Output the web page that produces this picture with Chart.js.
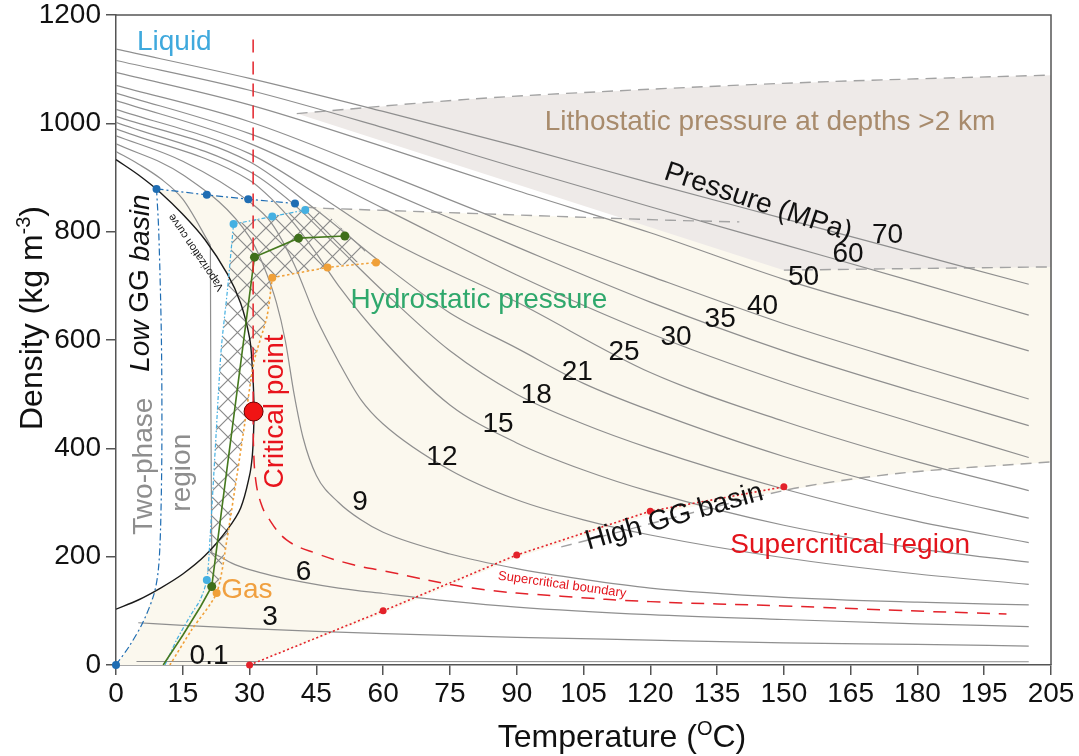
<!DOCTYPE html>
<html>
<head>
<meta charset="utf-8">
<script src="https://cdn.jsdelivr.net/npm/chart.js@4.4.0/dist/chart.umd.min.js"></script>
<style>
  html, body { margin: 0; padding: 0; background: #fff; }
  canvas { display: block; }
</style>
</head>
<body>
<canvas id="chart" width="1079" height="756"></canvas>
<script>
// ---- isobars (temperature °C / density kg m-3) ----
const p70T = [0, 30, 60, 90, 120, 150, 180, 205];
const p70D = [1137, 1083, 1022, 958, 890, 824, 758, 703];
const p60T = [0, 30, 60, 90, 120, 150, 180, 205];
const p60D = [1116, 1061, 992, 918, 846, 776, 706, 646];
const p50T = [0, 30, 60, 90, 120, 150, 180, 205];
const p50D = [1094, 1034, 957, 876, 798, 712, 640, 580];
const p40T = [0, 30, 60, 90, 120, 150, 180, 205];
const p40D = [1070, 1003, 908, 810, 718, 630, 553, 491];
const p35T = [0, 30, 60, 90, 120, 150, 180, 205];
const p35D = [1056, 981, 878, 772, 670, 580, 503, 442];
const p30T = [0, 30, 60, 90, 120, 150, 180, 205];
const p30D = [1042, 963, 843, 720, 612, 522, 445, 383];
const p25T = [0, 30, 45, 60, 90, 120, 150, 180, 205];
const p25D = [1026, 944, 870, 790, 670, 540, 450, 375, 322];
const p21T = [0, 30, 45, 60, 75, 90, 105, 120, 150, 180, 205];
const p21D = [1013, 929, 840, 740, 650, 585, 520, 470, 385, 318, 271];
const p18T = [0, 30, 40, 50, 60, 75, 90, 105, 120, 150, 180, 205];
const p18D = [1002, 911, 850, 770, 690, 580, 500, 445, 400, 325, 265, 226];
const p15T = [0, 30, 35, 40, 45, 50, 60, 75, 90, 105, 120, 150, 180, 205];
const p15D = [990, 895, 860, 815, 760, 700, 600, 480, 410, 360, 320, 258, 215, 190];
const p12T = [0, 15, 30, 35, 40, 45, 50, 55, 60, 75, 90, 105, 120, 150, 180, 205];
const p12D = [977, 930, 855, 815, 740, 640, 560, 490, 445, 360, 305, 268, 240, 198, 168, 149];
const p9T = [0, 15, 30, 33, 36, 38, 40, 42, 45, 50, 55, 60, 75, 90, 105, 120, 150, 180, 205];
const p9D = [962, 905, 790, 740, 670, 600, 500, 420, 350, 300, 268, 245, 205, 178, 158, 142, 125, 116, 111];
const p6LiqT = [0, 5, 10, 15, 21.2];
const p6LiqD = [948, 925, 898, 860, 775];
const p6TwoT = [21.2, 21.3, 21.5];
const p6TwoD = [775, 500, 207];
const p6GasT = [21.5, 23.4, 26, 30, 35, 42, 50, 60, 75, 90, 120, 150, 180, 205];
const p6GasD = [207, 200, 188, 176, 165, 153, 142, 132, 118, 107, 93, 84, 76, 71];
const p3T = [5, 15, 30, 45, 60, 90, 120, 150, 180, 205];
const p3D = [78, 73, 67, 62, 58, 51, 46, 41, 38, 35];
const p01T = [4.6, 205];
const p01D = [6.5, 6];

const pressureLabels = ['70', '60', '50', '40', '35', '30', '25', '21', '18', '15', '12', '9', '6', '3', '0.1'];
const pressureLabelT = [173.3, 164.4, 154.4, 145.2, 135.7, 125.8, 114.1, 103.6, 94.4, 85.8, 73.2, 54.8, 42.1, 34.6, 20.9];
const pressureLabelD = [794, 758, 715, 663, 638, 605, 578, 541, 498, 445, 383, 301, 171, 88, 17];

// ---- saturation dome and critical point ----
const domeT = [0, 5, 10, 15, 20, 25, 28, 30, 30.6, 30.9, 31, 30.9, 30.6, 30, 28, 25, 20, 15, 10, 5, 0];
const domeD = [933, 905, 872, 832, 785, 722, 668, 604, 552, 505, 467, 430, 385, 350, 290, 250, 202, 168, 142, 120, 103];
const criticalT = [30.9];
const criticalD = [468];

// ---- red lines ----
const critLineT = [30.8, 30.8];
const critLineD = [1155, 468];
const scBoundT = [30.8, 30.9, 31.4, 32.5, 34, 38.3, 45, 53.3, 60, 80, 100, 120, 150, 175, 200];
const scBoundD = [468, 400, 340, 300, 274, 231, 206, 185, 174, 142, 127, 117, 109, 101, 94];
const highGGT = [30, 60, 90, 120, 150];
const highGGD = [0, 100, 203, 284, 329];

// ---- coloured gradient paths ----
const darkBlueVertT = [0, 3, 6, 8.5, 9.5, 10, 10.3, 10.2, 9.6, 9.1];
const darkBlueVertD = [0, 35, 78, 130, 175, 250, 400, 600, 800, 879];
const darkBlueTopT = [9.1, 20.4, 29.7, 40.2];
const darkBlueTopD = [879, 868, 860, 852];
const darkBlueDotT = [0, 9.1, 20.4, 29.7, 40.2];
const darkBlueDotD = [0, 879, 868, 860, 852];
const lightBlueVertT = [11, 13.6, 17, 18.9, 20.4, 21.1, 22.3, 23.6, 25, 26.4];
const lightBlueVertD = [0, 46, 95, 120, 157, 231, 400, 580, 690, 814];
const lightBlueTopT = [26.4, 35.1, 42.5];
const lightBlueTopD = [814, 828, 840];
const lightBlueDotT = [20.4, 26.4, 35.1, 42.5];
const lightBlueDotD = [157, 814, 828, 840];
const greenT = [10.6, 15, 19, 21.5, 31.1, 41, 51.4];
const greenD = [0, 55, 108, 145, 753, 788, 792];
const greenDotT = [21.5, 31.1, 41, 51.4];
const greenDotD = [145, 753, 788, 792];
const orangeT = [12.1, 17, 22.6, 24.9, 28.6, 31, 33.9, 35.1];
const orangeD = [0, 65, 133, 231, 428, 560, 643, 715];
const orangeTopT = [35.1, 47.5, 58.4];
const orangeTopD = [715, 734, 743];
const orangeDotT = [22.6, 35.1, 47.5, 58.4];
const orangeDotD = [133, 715, 734, 743];

// ---- shaded regions ----
const hatchT = [26.4, 35.1, 42.5, 47, 56, 55, 47.5, 35.1, 33.9, 31, 28.6, 24.9, 22.6, 20.4, 21.1, 22.3, 23.6, 25];
const hatchD = [814, 828, 842, 835, 765, 745, 734, 715, 643, 560, 428, 231, 133, 157, 231, 400, 580, 690];
const creamT = [0, 3, 6, 8.6, 10, 15, 20, 25, 28, 30, 30.6, 30.9, 31, 30.9, 30.6, 30, 28, 25, 20, 15, 10, 9.1,
  20.4, 29.7, 40.2, 47, 124.5, 150, 210, 210, 176, 150, 120, 90, 60, 30];
const creamD = [0, 35, 78, 138, 142, 168, 202, 250, 290, 350, 385, 430, 467, 505, 552, 604, 668, 722, 785, 832, 872, 879,
  868, 860, 852, 843, 821, 816, 814, 375, 354, 322, 278, 198, 95, 0];
const lithoT = [40.6, 80, 120, 160, 210, 210, 150];
const lithoD = [1018, 1045, 1063, 1077, 1089, 735, 729];
const lithoTopT = [40.6, 80, 120, 160, 210];
const lithoTopD = [1018, 1045, 1063, 1077, 1089];
const lithoBotT = [150, 210];
const lithoBotD = [729, 735];
const hydroTopT = [42.5, 47, 124.5, 140];
const hydroTopD = [845, 843, 821, 818];
const hydroBotT = [100, 150, 176, 210];
const hydroBotD = [218, 322, 354, 375];

const FONT = "'Liberation Sans', Arial, sans-serif";
const GREY = '#8f8f8f';
const RED = '#e3222a';

const pts = (ts, ds) => ts.map((t, i) => ({ x: t, y: ds[i] }));

function line(ts, ds, o) {
  return Object.assign({
    data: pts(ts, ds), showLine: true, pointRadius: 0, borderWidth: 1.2,
    borderColor: GREY, backgroundColor: 'transparent', fill: false, tension: 0, order: 20
  }, o);
}
function area(ts, ds, color, order) {
  return {
    data: pts(ts, ds), showLine: true, pointRadius: 0, borderWidth: 1,
    borderColor: 'rgba(0,0,0,0)', backgroundColor: color, fill: 'shape', tension: 0, order: order
  };
}
function dots(ts, ds, color, r, order) {
  return {
    data: pts(ts, ds), showLine: false, pointRadius: r, pointBackgroundColor: color,
    pointBorderWidth: 0, pointBorderColor: color, clip: false, order: order || 2
  };
}

function hatchPattern() {
  const c = document.createElement('canvas');
  c.width = 19; c.height = 19;
  const g = c.getContext('2d');
  g.strokeStyle = '#8a8a8a';
  g.lineWidth = 1.2;
  g.beginPath();
  g.moveTo(-2, -2); g.lineTo(21, 21);
  g.moveTo(21, -2); g.lineTo(-2, 21);
  g.stroke();
  return g.createPattern(c, 'repeat');
}

const iso = { cubicInterpolationMode: 'monotone' };
const datasets = [
  area(creamT, creamD, '#fbf8ee', 40),
  area(lithoT, lithoD, '#eeeae8', 39),
  area(hatchT, hatchD, hatchPattern(), 38),
  line(lithoTopT, lithoTopD, { borderColor: '#a3a3a3', borderDash: [11, 7], borderWidth: 1.4, tension: 0.3, order: 30 }),
  line(lithoBotT, lithoBotD, { borderColor: '#a3a3a3', borderDash: [11, 7], borderWidth: 1.4, order: 30 }),
  line(hydroTopT, hydroTopD, { borderColor: '#a3a3a3', borderDash: [11, 7], borderWidth: 1.4, order: 30 }),
  line(hydroBotT, hydroBotD, { borderColor: '#a3a3a3', borderDash: [11, 7], borderWidth: 1.4, tension: 0.3, order: 30 }),
  line(p70T, p70D, iso), line(p60T, p60D, iso), line(p50T, p50D, iso), line(p40T, p40D, iso),
  line(p35T, p35D, iso), line(p30T, p30D, iso), line(p25T, p25D, iso), line(p21T, p21D, iso),
  line(p18T, p18D, iso), line(p15T, p15D, iso), line(p12T, p12D, iso), line(p9T, p9D, iso),
  line(p6LiqT, p6LiqD, iso), line(p6TwoT, p6TwoD, { tension: 0.2 }), line(p6GasT, p6GasD, iso),
  line(p3T, p3D, iso), line(p01T, p01D, iso),
  line(domeT, domeD, { borderColor: '#1a1a1a', borderWidth: 1.4, tension: 0.35, order: 10 }),
  line(darkBlueVertT, darkBlueVertD, { borderColor: '#1f6db3', borderDash: [7, 3, 2, 3], tension: 0.3, order: 8 }),
  line(darkBlueTopT, darkBlueTopD, { borderColor: '#1f6db3', borderDash: [7, 3, 2, 3], order: 8 }),
  line(lightBlueVertT, lightBlueVertD, { borderColor: '#45b0e2', borderDash: [4, 2, 1.5, 2], tension: 0.25, order: 8 }),
  line(lightBlueTopT, lightBlueTopD, { borderColor: '#45b0e2', borderDash: [4, 2, 1.5, 2], order: 8 }),
  line(greenT, greenD, { borderColor: '#46791f', borderWidth: 1.6, order: 7 }),
  line(orangeT, orangeD, { borderColor: '#f0a038', borderDash: [2.5, 2.5], borderWidth: 1.6, tension: 0.25, order: 7 }),
  line(orangeTopT, orangeTopD, { borderColor: '#f0a038', borderDash: [2.5, 2.5], borderWidth: 1.6, order: 7 }),
  line(critLineT, critLineD, { borderColor: RED, borderDash: [13, 9], borderWidth: 1.5, order: 6 }),
  line(scBoundT, scBoundD, { borderColor: RED, borderDash: [13, 9], borderWidth: 1.5, tension: 0.4, order: 6 }),
  line(highGGT, highGGD, { borderColor: RED, borderDash: [2, 2.5], borderWidth: 1.6, order: 6 }),
  dots(highGGT, highGGD, RED, 3.5),
  dots(darkBlueDotT, darkBlueDotD, '#1f6db3', 4),
  dots(lightBlueDotT, lightBlueDotD, '#45b0e2', 4),
  dots(greenDotT, greenDotD, '#3f6f1b', 4.5),
  dots(orangeDotT, orangeDotD, '#f0a038', 4),
  {
    data: pts(criticalT, criticalD), showLine: false, pointRadius: 9.5,
    pointBackgroundColor: '#f01414', pointBorderColor: '#6a0000', pointBorderWidth: 1, order: 1
  }
];

// text annotations placed in data coordinates
const notes = [
  { t: 13.1, d: 1150, text: 'Liquid', size: 28, color: '#3fa9dd' },
  { t: 146.9, d: 1002, text: 'Lithostatic pressure at depths >2 km', size: 28, color: '#a88b6c' },
  { t: 144.2, d: 854, text: 'Pressure (MPa)', size: 28, color: '#111', rot: 18.5 },
  { t: 81.5, d: 674, text: 'Hydrostatic pressure', size: 28, color: '#2fa86c' },
  { t: 35.7, d: 468, text: 'Critical point', size: 28, color: '#e8141c', rot: -90 },
  { t: 6.3, d: 367, text: 'Two-phase', size: 28, color: '#8e8e8e', rot: -90 },
  { t: 14.8, d: 355, text: 'region', size: 28, color: '#8e8e8e', rot: -90 },
  { t: 29.4, d: 138, text: 'Gas', size: 28, color: '#f0a040' },
  { t: 125.4, d: 273, text: 'High GG basin', size: 28, color: '#111', rot: -16 },
  { t: 164.9, d: 221, text: 'Supercritical region', size: 28, color: '#e3141c' },
  { t: 100.2, d: 148, text: 'Supercritical boundary', size: 13, color: '#e3141c', rot: 8 },
  { t: 18.0, d: 762, text: 'Vaporization curve', size: 11, color: '#111', rot: -124 }
];

const annotate = {
  id: 'annotate',
  afterDatasetsDraw(chart) {
    const { ctx, chartArea: a, scales: { x, y } } = chart;
    ctx.save();
    // frame top and right
    ctx.strokeStyle = '#555';
    ctx.lineWidth = 1.5;
    ctx.beginPath();
    ctx.moveTo(a.left, a.top); ctx.lineTo(a.right, a.top); ctx.lineTo(a.right, a.bottom);
    ctx.stroke();

    ctx.textAlign = 'center';
    ctx.textBaseline = 'middle';
    const put = (n) => {
      ctx.save();
      ctx.translate(x.getPixelForValue(n.t), y.getPixelForValue(n.d));
      if (n.rot) ctx.rotate(n.rot * Math.PI / 180);
      ctx.font = `${n.size}px ${FONT}`;
      ctx.fillStyle = n.color;
      ctx.fillText(n.text, 0, 0);
      ctx.restore();
    };
    notes.forEach(put);
    pressureLabels.forEach((s, i) => put({ t: pressureLabelT[i], d: pressureLabelD[i], text: s, size: 28, color: '#111' }));

    // "Low GG basin" with mixed styles
    ctx.save();
    ctx.translate(x.getPixelForValue(5.55), y.getPixelForValue(705));
    ctx.rotate(-Math.PI / 2);
    const parts = [['Low', 'italic '], [' GG ', ''], ['basin', 'italic ']];
    let w = 0;
    parts.forEach(([s, st]) => { ctx.font = `${st}28px ${FONT}`; w += ctx.measureText(s).width; });
    let cx = -w / 2;
    ctx.textAlign = 'left';
    ctx.fillStyle = '#111';
    parts.forEach(([s, st]) => {
      ctx.font = `${st}28px ${FONT}`;
      ctx.fillText(s, cx, 0);
      cx += ctx.measureText(s).width;
    });
    ctx.restore();
    ctx.restore();
  },
  afterDraw(chart) {
    const { ctx } = chart;
    ctx.save();
    ctx.fillStyle = '#111';
    ctx.textBaseline = 'alphabetic';
    // x title with superscript O
    const big = `32px ${FONT}`, small = `20px ${FONT}`;
    const segs = [['Temperature (', big, 0], ['O', small, -12], ['C)', big, 0]];
    let w = 0;
    segs.forEach(([s, f]) => { ctx.font = f; w += ctx.measureText(s).width; });
    let px = 622 - w / 2;
    ctx.textAlign = 'left';
    segs.forEach(([s, f, dy]) => { ctx.font = f; ctx.fillText(s, px, 747 + dy); px += ctx.measureText(s).width; });
    // y title
    ctx.save();
    ctx.translate(42, 318);
    ctx.rotate(-Math.PI / 2);
    const ysegs = [['Density (kg m', big, 0], ['-3', small, -12], [')', big, 0]];
    w = 0;
    ysegs.forEach(([s, f]) => { ctx.font = f; w += ctx.measureText(s).width; });
    px = -w / 2;
    ysegs.forEach(([s, f, dy]) => { ctx.font = f; ctx.fillText(s, px, dy); px += ctx.measureText(s).width; });
    ctx.restore();
    ctx.restore();
  }
};

new Chart(document.getElementById('chart'), {
  type: 'scatter',
  data: { datasets },
  options: {
    responsive: false,
    animation: false,
    devicePixelRatio: 1,
    layout: { padding: { top: 15, right: 28, left: 0, bottom: 0 } },
    plugins: { legend: { display: false }, tooltip: { enabled: false } },
    elements: { point: { hoverRadius: 0 } },
    scales: {
      x: {
        type: 'linear', min: 0, max: 210,
        afterFit: (s) => { s.height = 91; s.paddingLeft = 0; s.paddingRight = 0; },
        border: { color: '#555', width: 1.5 },
        grid: { drawOnChartArea: false, drawTicks: true, tickLength: 10, color: '#555', lineWidth: 1.5 },
        ticks: {
          stepSize: 15, autoSkip: false, maxRotation: 0, padding: 2,
          color: '#111', font: { family: FONT, size: 28 },
          callback: (v) => (v === 210 ? '205' : String(v))
        }
      },
      y: {
        type: 'linear', min: 0, max: 1200,
        afterFit: (s) => { s.width = 116; s.paddingTop = 0; s.paddingBottom = 0; },
        border: { color: '#555', width: 1.5 },
        grid: { drawOnChartArea: false, drawTicks: true, tickLength: 10, color: '#555', lineWidth: 1.5 },
        ticks: {
          stepSize: 200, padding: 5, color: '#111', font: { family: FONT, size: 28 },
          callback: (v) => String(v)
        }
      }
    }
  },
  plugins: [annotate]
});
</script>
</body>
</html>
